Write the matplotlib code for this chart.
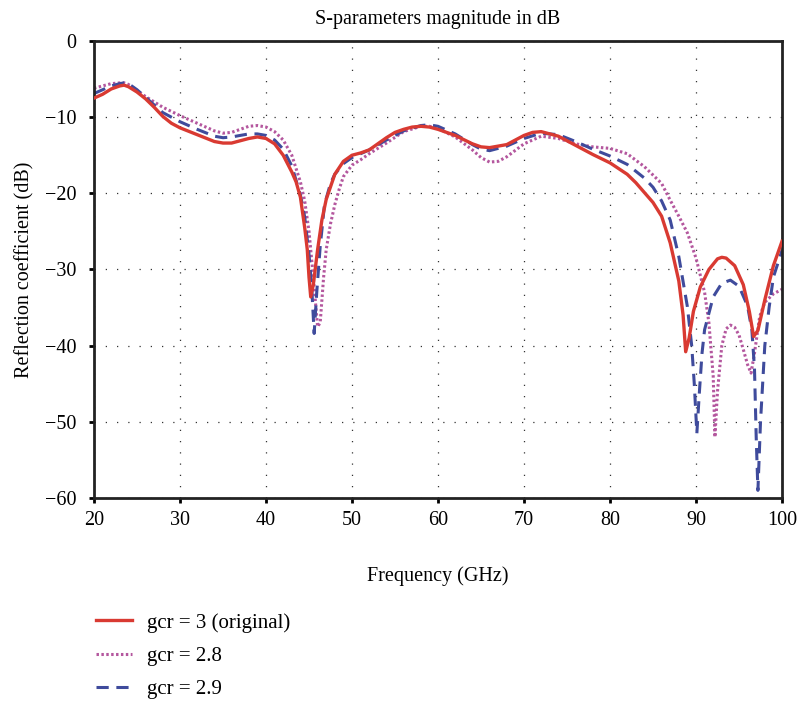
import numpy as np
import matplotlib
matplotlib.use("Agg")
import matplotlib.pyplot as plt

plt.rcParams['font.family'] = ['Liberation Serif', 'DejaVu Serif']

# gcr = 3 (original)
freq_a = [20, 21, 22, 23, 23.5, 24, 25, 26, 27, 28, 29, 30, 32, 34, 35, 36, 37, 38, 39, 40,
          41, 42, 43, 43.5, 44, 44.5, 44.8, 45.0, 45.2, 45.5, 46, 46.5, 47, 48, 49, 50, 51, 52,
          53, 54, 55, 56, 57, 58, 59, 60, 62, 64, 65, 66, 68, 70, 71, 72, 74, 76, 78, 80, 82,
          83, 84, 85, 86, 87, 88, 88.5, 88.8, 89.2, 89.7, 90.5, 91.5, 92.5, 93, 93.5, 94.5,
          95.5, 96.2, 96.7, 97.2, 98, 99, 100]
s11_a = [-7.5, -7.0, -6.3, -5.9, -5.8, -6.0, -6.7, -7.6, -8.7, -9.9, -10.8, -11.4, -12.3, -13.2,
         -13.4, -13.4, -13.1, -12.8, -12.6, -12.8, -13.5, -15.0, -17.2, -18.5, -20.5, -24.5,
         -27.4, -31.0, -33.6, -32.0, -27.4, -23.5, -20.8, -17.5, -15.8, -15.0, -14.7, -14.3,
         -13.5, -12.7, -12.0, -11.6, -11.3, -11.2, -11.3, -11.6, -12.4, -13.5, -13.9, -14.0,
         -13.6, -12.4, -12.0, -11.9, -12.5, -13.7, -14.9, -16.0, -17.5, -18.6, -19.9, -21.2,
         -23.0, -26.5, -31.5, -36.0, -40.8, -39.0, -35.5, -32.3, -30.0, -28.6, -28.4, -28.5,
         -29.5, -32.0, -35.5, -38.8, -38.0, -34.0, -29.5, -26.3]

# gcr = 2.8
freq_b = [20, 21, 22, 23, 23.5, 24, 25, 26, 27, 28, 30, 32, 34, 35, 36, 37, 38, 39, 40, 41, 42,
          43, 44, 44.5, 45, 45.5, 46, 46.3, 46.7, 47, 47.5, 48, 48.5, 49, 50, 51, 52, 54, 56, 58,
          59, 60, 62, 64, 65, 66, 67, 68, 70, 72, 74, 76, 78, 80, 82, 84, 86, 87, 88, 89, 90, 91,
          91.5, 92, 92.2, 92.5, 93, 93.5, 94, 94.5, 95, 95.5, 96, 96.4, 96.8, 97.4, 98, 99, 100]
s11_b = [-6.2, -5.9, -5.6, -5.5, -5.5, -5.7, -6.5, -7.3, -8.0, -8.7, -9.8, -10.8, -11.8, -12.1,
         -12.0, -11.6, -11.2, -11.1, -11.3, -11.9, -13.0, -15.0, -18.5, -21.0, -25.0, -31.0,
         -37.5, -37.0, -31.0, -27.4, -24.0, -21.5, -19.5, -17.8, -16.3, -15.6, -14.8, -13.4,
         -11.9, -11.2, -11.2, -11.5, -12.6, -14.3, -15.3, -15.9, -15.8, -15.2, -13.5, -12.5,
         -12.8, -13.5, -13.9, -14.1, -14.8, -16.5, -18.7, -20.9, -23.0, -25.2, -28.5, -33.0,
         -37.0, -44.0, -52.0, -46.0, -40.0, -37.8, -37.3, -37.6, -38.6, -40.5, -42.5, -43.6,
         -41.0, -36.2, -34.3, -33.2, -32.6]

# gcr = 2.9
freq_c = [20, 21, 22, 23, 23.5, 24, 25, 26, 27, 28, 30, 32, 34, 35, 36, 37, 38, 39, 40, 41, 42,
          43, 44, 44.5, 45, 45.3, 45.6, 45.9, 46.3, 46.8, 47.5, 48, 49, 50, 51, 52, 54, 56, 58,
          59, 60, 62, 64, 65, 66, 68, 70, 72, 74, 76, 78, 80, 82, 84, 85, 86, 87, 88, 89, 89.5,
          89.8, 90.1, 90.4, 90.7, 91, 92, 93, 94, 95, 96, 96.5, 96.8, 97.0, 97.2, 97.5, 98, 98.5,
          99, 100]
s11_c = [-6.9, -6.4, -5.9, -5.6, -5.5, -5.6, -6.4, -7.4, -8.4, -9.4, -10.6, -11.6, -12.5, -12.7,
         -12.6, -12.4, -12.2, -12.2, -12.4, -13.0, -14.2, -16.4, -20.2, -23.1, -28.0, -32.0,
         -38.4, -33.0, -27.0, -21.5, -18.7, -17.5, -16.1, -15.3, -14.8, -14.3, -13.0, -11.8,
         -11.1, -11.0, -11.2, -12.2, -13.6, -14.2, -14.4, -13.8, -12.8, -12.1, -12.3, -13.2,
         -14.2, -15.1, -16.2, -18.0, -19.2, -21.0, -23.5, -28.3, -34.9, -40.0, -45.0, -51.5,
         -46.0, -41.0, -37.9, -33.6, -31.8, -31.4, -32.2, -34.8, -38.0, -43.0, -52.0, -59.0,
         -50.0, -40.0, -35.0, -31.0, -27.5]

labels = ['gcr = 3 (original)', 'gcr = 2.8', 'gcr = 2.9']

fig = plt.figure(figsize=(8, 7.03), dpi=100)
ax = fig.add_axes([0.1175, 0.2916, 0.86, 0.6501])

ax.plot(freq_a, s11_a, color='#d93a32', lw=2.4, label=labels[0], zorder=3)
ax.plot(freq_b, s11_b, color='#b4579e', lw=2.2, linestyle=(0, (0.8, 0.8)), label=labels[1], zorder=2)
ax.plot(freq_c, s11_c, color='#3f4b9c', lw=2.2, linestyle=(0, (4, 2.5)), label=labels[2], zorder=2)

ax.set_xlim(20, 100)
ax.set_ylim(-60, 0)
ax.set_xticks(np.arange(20, 101, 10))
ax.set_yticks(np.arange(-60, 1, 10))
ax.grid(True, color='#333333', linestyle=(0, (1, 8)), linewidth=0.9)
ax.tick_params(direction='out', length=3.5, width=2.0, labelsize=14.5, pad=6,
               top=False, right=False)
ax.tick_params(axis='y', pad=9)
for sp in ax.spines.values():
    sp.set_linewidth(2.0)
    sp.set_color('#222222')

ax.set_title('S-parameters magnitude in dB', fontsize=14.5, pad=12)
ax.set_xlabel('Frequency (GHz)', fontsize=14.5, labelpad=26)
ax.set_ylabel('Reflection coefficient (dB)', fontsize=14.5, labelpad=8)

fig.legend(loc='upper left', bbox_to_anchor=(0.097, 0.155), frameon=False, fontsize=15,
           handlelength=1.7, handletextpad=0.75, labelspacing=0.66)

fig.savefig('out.png', dpi=100)
